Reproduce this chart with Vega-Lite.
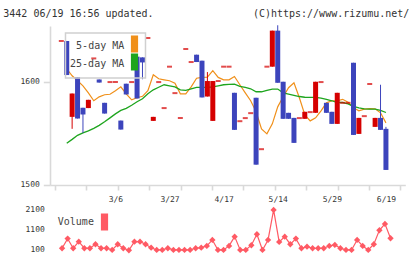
{
  "$schema": "https://vega.github.io/schema/vega-lite/v6.json",
  "background": "white",
  "padding": {"left": 3, "top": 9, "right": 0, "bottom": 0},
  "bounds": "flush",
  "spacing": 21,
  "config": {
    "font": "DejaVu Sans Mono",
    "view": {"stroke": null},
    "axis": {
      "labelFont": "DejaVu Sans Mono",
      "labelFontSize": 8,
      "labelColor": "#333333",
      "domainColor": "#d9d9d9",
      "domainWidth": 1.6,
      "tickColor": "#d9d9d9",
      "tickWidth": 1.6,
      "grid": false,
      "title": null
    },
    "title": {"font": "DejaVu Sans Mono", "fontSize": 10, "fontWeight": "normal", "color": "#333333"}
  },
  "title": {"text": "3442 06/19 16:56 updated.", "anchor": "start", "frame": "bounds", "baseline": "alphabetic", "offset": -18, "dx": -16.7},
  "resolve": {"scale": {"color": "independent"}, "legend": {"color": "independent"}},
  "datasets": {
    "prices": [
      {"i": 0, "open": 1639.5, "high": 1639.5, "low": 1639.5, "close": 1639.5, "ma5": null, "ma25": null, "vol": null},
      {"i": 1, "open": 1639.5, "high": 1639.5, "low": 1606.5, "close": 1606.5, "ma5": 1612.6, "ma25": 1540.5, "vol": 151},
      {"i": 2, "open": 1566.0, "high": 1588.6, "low": 1554.4, "close": 1588.6, "ma5": 1605.8, "ma25": 1544.2, "vol": 640},
      {"i": 3, "open": 1604.4, "high": 1604.4, "low": 1564.4, "close": 1564.4, "ma5": 1601.0, "ma25": 1548.1, "vol": 151},
      {"i": 4, "open": 1574.8, "high": 1574.8, "low": 1550.5, "close": 1568.3, "ma5": 1596.1, "ma25": 1550.5, "vol": 487},
      {"i": 5, "open": 1574.5, "high": 1582.5, "low": 1574.5, "close": 1582.5, "ma5": 1589.3, "ma25": 1552.4, "vol": 151},
      {"i": 6, "open": 1622.6, "high": 1622.6, "low": 1622.6, "close": 1622.6, "ma5": 1581.6, "ma25": 1554.9, "vol": 151},
      {"i": 7, "open": 1602.2, "high": 1602.2, "low": 1599.2, "close": 1599.2, "ma5": 1585.4, "ma25": 1557.8, "vol": 355},
      {"i": 8, "open": 1579.6, "high": 1579.6, "low": 1569.2, "close": 1569.2, "ma5": 1587.4, "ma25": 1561.2, "vol": 151},
      {"i": 9, "open": 1599.7, "high": 1599.7, "low": 1599.7, "close": 1599.7, "ma5": 1587.9, "ma25": 1565.0, "vol": 151},
      {"i": 10, "open": 1599.7, "high": 1599.7, "low": 1599.7, "close": 1599.7, "ma5": 1591.3, "ma25": 1568.9, "vol": 64},
      {"i": 11, "open": 1562.4, "high": 1562.4, "low": 1553.7, "close": 1553.7, "ma5": 1595.1, "ma25": 1572.3, "vol": 355},
      {"i": 12, "open": 1598.1, "high": 1598.1, "low": 1587.7, "close": 1587.7, "ma5": 1588.3, "ma25": 1574.3, "vol": 151},
      {"i": 13, "open": 1599.7, "high": 1599.7, "low": 1599.7, "close": 1599.7, "ma5": 1582.5, "ma25": 1577.2, "vol": 49},
      {"i": 14, "open": 1624.3, "high": 1624.3, "low": 1583.8, "close": 1583.8, "ma5": 1584.5, "ma25": 1580.6, "vol": 487},
      {"i": 15, "open": 1623.6, "high": 1623.6, "low": 1602.4, "close": 1618.7, "ma5": 1585.9, "ma25": 1583.5, "vol": 487},
      {"i": 16, "open": 1642.4, "high": 1642.4, "low": 1642.4, "close": 1642.4, "ma5": 1591.3, "ma25": 1588.3, "vol": 355},
      {"i": 17, "open": 1562.1, "high": 1566.0, "low": 1562.1, "close": 1566.0, "ma5": 1606.8, "ma25": 1592.2, "vol": 181},
      {"i": 18, "open": 1599.7, "high": 1599.7, "low": 1599.7, "close": 1599.7, "ma5": 1602.9, "ma25": 1594.7, "vol": 64},
      {"i": 19, "open": 1574.5, "high": 1574.5, "low": 1574.5, "close": 1574.5, "ma5": 1601.9, "ma25": 1597.1, "vol": 64},
      {"i": 20, "open": 1614.6, "high": 1614.6, "low": 1614.6, "close": 1614.6, "ma5": 1601.0, "ma25": 1596.1, "vol": 151},
      {"i": 21, "open": 1589.0, "high": 1589.0, "low": 1589.0, "close": 1589.0, "ma5": 1598.5, "ma25": 1595.1, "vol": 64},
      {"i": 22, "open": 1564.8, "high": 1564.8, "low": 1564.8, "close": 1564.8, "ma5": 1588.3, "ma25": 1592.2, "vol": 64},
      {"i": 23, "open": 1631.7, "high": 1631.7, "low": 1631.7, "close": 1631.7, "ma5": 1588.3, "ma25": 1591.7, "vol": 64},
      {"i": 24, "open": 1619.1, "high": 1619.1, "low": 1619.1, "close": 1619.1, "ma5": 1595.1, "ma25": 1593.2, "vol": 64},
      {"i": 25, "open": 1626.2, "high": 1626.2, "low": 1619.1, "close": 1619.1, "ma5": 1603.4, "ma25": 1594.5, "vol": 151},
      {"i": 26, "open": 1620.4, "high": 1620.4, "low": 1584.8, "close": 1584.8, "ma5": 1604.2, "ma25": 1594.5, "vol": 181},
      {"i": 27, "open": 1585.7, "high": 1609.4, "low": 1585.7, "close": 1600.7, "ma5": 1604.4, "ma25": 1594.5, "vol": 268},
      {"i": 28, "open": 1562.1, "high": 1600.7, "low": 1562.1, "close": 1600.7, "ma5": 1610.7, "ma25": 1595.1, "vol": 573},
      {"i": 29, "open": 1600.7, "high": 1600.7, "low": 1600.7, "close": 1600.7, "ma5": 1604.2, "ma25": 1596.1, "vol": 64},
      {"i": 30, "open": 1614.6, "high": 1614.6, "low": 1614.6, "close": 1614.6, "ma5": 1601.9, "ma25": 1597.1, "vol": 64},
      {"i": 31, "open": 1614.6, "high": 1614.6, "low": 1614.6, "close": 1614.6, "ma5": 1601.9, "ma25": 1597.4, "vol": 268},
      {"i": 32, "open": 1589.3, "high": 1589.3, "low": 1553.4, "close": 1553.4, "ma5": 1605.1, "ma25": 1597.6, "vol": 741},
      {"i": 33, "open": 1561.8, "high": 1561.8, "low": 1561.8, "close": 1561.8, "ma5": 1597.1, "ma25": 1595.6, "vol": 64},
      {"i": 34, "open": 1564.8, "high": 1564.8, "low": 1564.8, "close": 1564.8, "ma5": 1589.3, "ma25": 1594.5, "vol": 64},
      {"i": 35, "open": 1569.6, "high": 1569.6, "low": 1569.6, "close": 1569.6, "ma5": 1581.6, "ma25": 1593.2, "vol": 304},
      {"i": 36, "open": 1584.5, "high": 1584.5, "low": 1519.7, "close": 1519.7, "ma5": 1570.9, "ma25": 1590.3, "vol": 863},
      {"i": 37, "open": 1534.7, "high": 1534.7, "low": 1534.7, "close": 1534.7, "ma5": 1554.4, "ma25": 1590.3, "vol": 64},
      {"i": 38, "open": 1614.6, "high": 1614.6, "low": 1614.6, "close": 1614.6, "ma5": 1549.5, "ma25": 1591.7, "vol": 573},
      {"i": 39, "open": 1614.6, "high": 1649.5, "low": 1614.6, "close": 1649.5, "ma5": 1559.2, "ma25": 1592.9, "vol": 2100},
      {"i": 40, "open": 1649.5, "high": 1654.7, "low": 1599.0, "close": 1599.0, "ma5": 1575.7, "ma25": 1592.9, "vol": 472},
      {"i": 41, "open": 1600.0, "high": 1600.0, "low": 1564.1, "close": 1564.1, "ma5": 1585.4, "ma25": 1589.3, "vol": 741},
      {"i": 42, "open": 1569.9, "high": 1569.9, "low": 1564.1, "close": 1564.1, "ma5": 1594.2, "ma25": 1588.1, "vol": 355},
      {"i": 43, "open": 1565.0, "high": 1565.0, "low": 1540.8, "close": 1540.8, "ma5": 1599.0, "ma25": 1586.9, "vol": 640},
      {"i": 44, "open": 1564.8, "high": 1564.8, "low": 1564.8, "close": 1564.8, "ma5": 1584.5, "ma25": 1585.7, "vol": 151},
      {"i": 45, "open": 1564.1, "high": 1570.9, "low": 1564.1, "close": 1570.9, "ma5": 1568.0, "ma25": 1585.0, "vol": 232},
      {"i": 46, "open": 1570.6, "high": 1570.6, "low": 1570.6, "close": 1570.6, "ma5": 1562.1, "ma25": 1584.8, "vol": 151},
      {"i": 47, "open": 1569.9, "high": 1600.0, "low": 1569.9, "close": 1600.0, "ma5": 1565.0, "ma25": 1584.8, "vol": 151},
      {"i": 48, "open": 1599.7, "high": 1599.7, "low": 1599.7, "close": 1599.7, "ma5": 1571.8, "ma25": 1584.2, "vol": 151},
      {"i": 49, "open": 1579.6, "high": 1579.6, "low": 1569.9, "close": 1569.9, "ma5": 1579.6, "ma25": 1583.0, "vol": 268},
      {"i": 50, "open": 1570.9, "high": 1570.9, "low": 1559.2, "close": 1559.2, "ma5": 1581.6, "ma25": 1581.6, "vol": 319},
      {"i": 51, "open": 1559.2, "high": 1589.3, "low": 1559.2, "close": 1589.3, "ma5": 1581.6, "ma25": 1579.9, "vol": 151},
      {"i": 52, "open": 1579.6, "high": 1579.6, "low": 1579.6, "close": 1579.6, "ma5": 1583.0, "ma25": 1579.9, "vol": 64},
      {"i": 53, "open": 1579.6, "high": 1579.6, "low": 1579.6, "close": 1579.6, "ma5": 1580.1, "ma25": 1578.6, "vol": 64},
      {"i": 54, "open": 1618.4, "high": 1618.4, "low": 1548.5, "close": 1548.5, "ma5": 1574.8, "ma25": 1576.2, "vol": 573},
      {"i": 55, "open": 1549.5, "high": 1565.0, "low": 1549.5, "close": 1565.0, "ma5": 1571.8, "ma25": 1574.8, "vol": 268},
      {"i": 56, "open": 1566.7, "high": 1566.7, "low": 1566.7, "close": 1566.7, "ma5": 1573.5, "ma25": 1573.8, "vol": 64},
      {"i": 57, "open": 1597.8, "high": 1597.8, "low": 1597.8, "close": 1597.8, "ma5": 1574.0, "ma25": 1573.5, "vol": 355},
      {"i": 58, "open": 1556.3, "high": 1565.0, "low": 1556.3, "close": 1565.0, "ma5": 1573.8, "ma25": 1573.5, "vol": 1065},
      {"i": 59, "open": 1565.0, "high": 1597.1, "low": 1553.4, "close": 1553.4, "ma5": 1569.9, "ma25": 1572.3, "vol": 1390},
      {"i": 60, "open": 1554.4, "high": 1556.3, "low": 1514.6, "close": 1514.6, "ma5": 1560.2, "ma25": 1570.2, "vol": 660}
    ]
  },
  "vconcat": [
    {
      "width": 355.3,
      "height": 159,
      "title": {"text": "(C)https://www.rizumu.net/", "anchor": "end", "frame": "group", "baseline": "alphabetic", "offset": -2.3, "dx": 4},
      "data": {"name": "prices"},
      "encoding": {
        "x": {
          "field": "i",
          "type": "quantitative",
          "scale": {"domain": [-1.168, 62.654], "nice": false, "zero": false},
          "axis": {
            "values": [-1.168, 4.634, 10.436, 16.238, 22.04, 27.842, 33.644, 39.446, 45.248, 51.05, 56.852, 62.654, 10, 20, 30, 40, 50, 60],
            "labelExpr": "datum.value == 10 ? '3/6' : datum.value == 20 ? '3/27' : datum.value == 30 ? '4/17' : datum.value == 40 ? '5/14' : datum.value == 50 ? '5/29' : datum.value == 60 ? '6/19' : ''",
            "labelOverlap": false,
            "labelFlush": false,
            "tickSize": 5,
            "labelPadding": 6,
            "tickOpacity": {"condition": {"test": "datum.value == round(datum.value)", "value": 0}, "value": 1}
          }
        }
      },
      "layer": [
        {
          "mark": {"type": "line", "strokeWidth": 1.2},
          "encoding": {
            "y": {
              "field": "ma5",
              "type": "quantitative",
              "scale": {"domain": [1500, 1654], "nice": false, "zero": false},
              "axis": {"values": [1500, 1600], "format": "d", "tickSize": 6.7, "labelPadding": 4}
            },
            "color": {
              "datum": "5-day MA",
              "type": "nominal",
              "scale": {"domain": ["5-day MA", "25-day MA"], "range": ["#f0901a", "#1ea51e"]},
              "legend": {
                "orient": "none",
                "legendX": 15.5,
                "legendY": 7,
                "direction": "vertical",
                "title": null,
                "symbolType": "M-0.6,-1.6L0.6,-1.6L0.6,1.6L-0.6,1.6Z",
                "symbolSize": 100,
                "symbolOffset": 58,
                "labelOffset": -16.3,
                "labelAlign": "right",
                "labelFont": "DejaVu Sans Mono",
                "labelFontSize": 10,
                "labelColor": "#444444",
                "rowPadding": -4,
                "padding": 5,
                "strokeColor": "#d0d0d0",
                "encode": {
                  "legend": {"update": {"strokeWidth": {"value": 1.5}}},
                  "labels": {"update": {"dy": {"value": 1.5}}},
                  "symbols": {
                    "update": {
                      "fill": [{"test": "datum.value === '5-day MA'", "value": "#f0901a"}, {"value": "#1ea51e"}],
                      "fillOpacity": {"value": 1},
                      "stroke": {"value": "#444444"},
                      "strokeWidth": {"value": 1.2}
                    }
                  }
                }
              }
            }
          }
        },
        {
          "mark": {"type": "line", "strokeWidth": 1.3},
          "encoding": {
            "y": {"field": "ma25", "type": "quantitative"},
            "color": {"datum": "25-day MA", "type": "nominal"}
          }
        },
        {
          "mark": {"type": "rule", "strokeWidth": 1},
          "encoding": {
            "y": {"field": "high", "type": "quantitative"},
            "y2": {"field": "low"},
            "color": {"condition": {"test": "datum.close < datum.open", "value": "#3c44bc"}, "value": "#d50000"}
          }
        },
        {
          "mark": {"type": "bar", "size": 5},
          "encoding": {
            "y": {"field": "open", "type": "quantitative"},
            "y2": {"field": "close"},
            "color": {"condition": {"test": "datum.close < datum.open", "value": "#3c44bc"}, "value": "#d50000"}
          }
        },
        {
          "transform": [{"filter": "datum.open == datum.close"}],
          "mark": {"type": "tick", "orient": "horizontal", "size": 5, "thickness": 2},
          "encoding": {
            "y": {"field": "close", "type": "quantitative"},
            "color": {"value": "#d50000"}
          }
        }
      ]
    },
    {
      "width": 355.3,
      "height": 45.2,
      "data": {"name": "prices"},
      "encoding": {
        "x": {"field": "i", "type": "quantitative", "scale": {"domain": [-1.168, 62.654], "nice": false, "zero": false}, "axis": null},
        "y": {
          "field": "vol",
          "type": "quantitative",
          "scale": {"domain": [0, 2300], "nice": false},
          "axis": {"values": [100, 1100, 2100], "format": "d", "domain": false, "ticks": false, "labelPadding": 5.7}
        },
        "color": {
          "datum": "Volume",
          "type": "nominal",
          "scale": {"range": ["#ff5a64"]},
          "legend": {
            "orient": "none",
            "legendX": 8.3,
            "legendY": 10,
            "title": null,
            "symbolType": "M-0.6,-1.6L0.6,-1.6L0.6,1.6L-0.6,1.6Z",
            "symbolSize": 100,
            "symbolOffset": 40.2,
            "labelOffset": -16.6,
            "labelAlign": "right",
            "labelFont": "DejaVu Sans Mono",
            "labelFontSize": 10,
            "labelColor": "#444444",
            "padding": 0,
            "encode": {
              "labels": {"update": {"dy": {"value": 0.5}}},
              "symbols": {
                "update": {
                  "fill": {"value": "#ff5a64"},
                  "fillOpacity": {"value": 1},
                  "stroke": {"value": "#444444"},
                  "strokeWidth": {"value": 1.2}
                }
              }
            }
          }
        }
      },
      "layer": [
        {"mark": {"type": "line", "strokeWidth": 1.2}},
        {"mark": {"type": "point", "shape": "diamond", "filled": true, "size": 40, "opacity": 1}}
      ]
    }
  ]
}
